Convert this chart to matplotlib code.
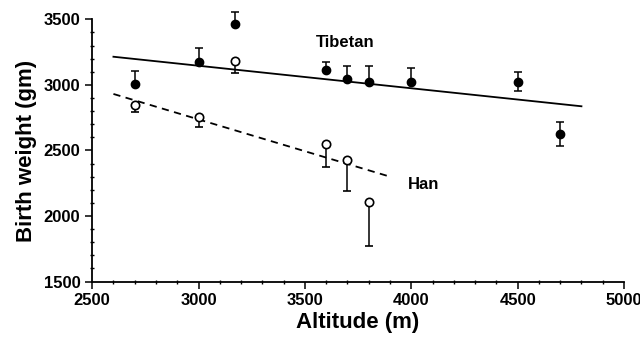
import matplotlib
matplotlib.use("Agg")
import matplotlib.pyplot as plt
from matplotlib.ticker import MultipleLocator

plt.rcParams['font.family'] = ['Liberation Sans', 'DejaVu Sans']

# Tibetan (filled circles)
tib_alt = [2700, 3000, 3170, 3600, 3700, 3800, 4000, 4500, 4700]
tib_bw = [3010, 3178, 3463, 3117, 3048, 3025, 3023, 3025, 2626]
tib_err_lo = [0, 0, 0, 0, 0, 0, 0, 75, 90]
tib_err_hi = [97, 100, 92, 60, 95, 122, 104, 75, 90]

# Han (open circles), error bars drawn downward only
han_alt = [2700, 3000, 3170, 3600, 3700, 3800]
han_bw = [2845, 2753, 3183, 2550, 2427, 2109]
han_err_lo = [55, 72, 90, 180, 235, 340]
han_err_hi = [0, 0, 0, 0, 0, 0]

# regression lines (end points)
tib_fit_x = [2600, 4800]
tib_fit_y = [3215, 2837]
han_fit_x = [2600, 3900]
han_fit_y = [2931, 2300]

fig = plt.figure(figsize=(6.4, 3.4), dpi=100)
ax = fig.add_axes([0.144, 0.172, 0.831, 0.771])

ax.plot(tib_fit_x, tib_fit_y, color='black', lw=1.3)
ax.plot(han_fit_x, han_fit_y, color='black', lw=1.3, ls=(0, (4, 3)))

tib = ax.errorbar(tib_alt, tib_bw, yerr=[tib_err_lo, tib_err_hi], fmt='o',
                  color='black', ms=6, capsize=3, elinewidth=1.1, capthick=1.1)
han = ax.errorbar(han_alt, han_bw, yerr=[han_err_lo, han_err_hi], fmt='o',
                  color='black', mfc='white', mew=1.2, ms=6, capsize=3,
                  elinewidth=1.1, capthick=1.1)
# the 3170 m error bar reaches above the top of the axis
for container in (tib, han):
    for artist in container.get_children():
        artist.set_clip_on(False)

ax.text(3688, 3321, 'Tibetan', fontsize=12, fontweight='bold',
        ha='center', va='center')
ax.text(3984, 2237, 'Han', fontsize=12, fontweight='bold',
        ha='left', va='center')

ax.set_xlim(2500, 5000)
ax.set_ylim(1500, 3500)
ax.xaxis.set_major_locator(MultipleLocator(500))
ax.xaxis.set_minor_locator(MultipleLocator(100))
ax.yaxis.set_major_locator(MultipleLocator(500))
ax.yaxis.set_minor_locator(MultipleLocator(100))
ax.spines['top'].set_visible(False)
ax.spines['right'].set_visible(False)
ax.spines['left'].set_linewidth(1.3)
ax.spines['bottom'].set_linewidth(1.3)
ax.tick_params(which='major', length=5, width=1.1, labelsize=12)
ax.tick_params(which='minor', length=3, width=1, direction='inout')
for lab in ax.get_xticklabels() + ax.get_yticklabels():
    lab.set_fontweight('bold')

ax.set_xlabel('Altitude (m)', fontsize=16, fontweight='bold', labelpad=3)
ax.set_ylabel('Birth weight (gm)', fontsize=16, fontweight='bold', labelpad=5)

fig.savefig('out.png', dpi=100)
